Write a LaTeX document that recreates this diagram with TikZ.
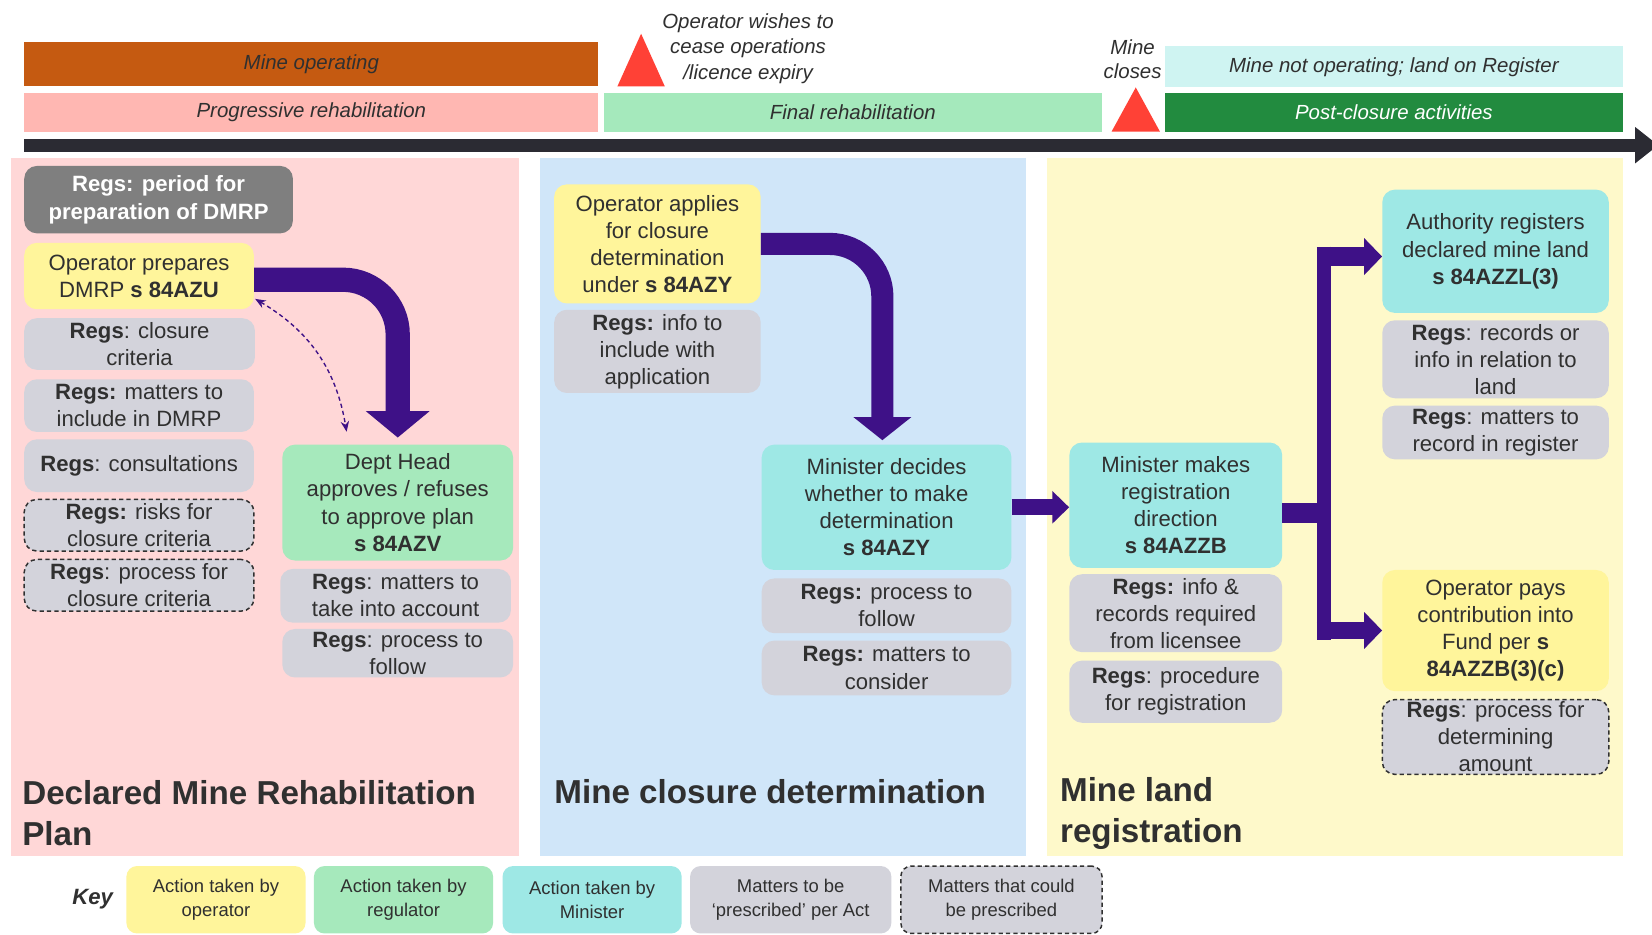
\documentclass[tikz,border=0pt]{standalone}
\usepackage{fontspec}
\setmainfont{Liberation Sans}
\usetikzlibrary{arrows.meta}
\definecolor{txt}{HTML}{303030}
\definecolor{opY}{HTML}{FFF59B}
\definecolor{regG}{HTML}{A6E9BC}
\definecolor{minC}{HTML}{9EE8E5}
\definecolor{regsG}{HTML}{D3D3DB}
\definecolor{dGray}{HTML}{7F7F7F}
\definecolor{pinkP}{HTML}{FFD7D7}
\definecolor{blueP}{HTML}{D0E6F9}
\definecolor{yelP}{HTML}{FEF9CA}
\definecolor{mineOp}{HTML}{C55A11}
\definecolor{progR}{HTML}{FFB7B2}
\definecolor{finR}{HTML}{A5E9BC}
\definecolor{notOp}{HTML}{CFF4F2}
\definecolor{postC}{HTML}{228B3F}
\definecolor{redT}{HTML}{FF4136}
\definecolor{tLine}{HTML}{2B2B33}
\definecolor{purp}{HTML}{3E1187}
\begin{document}
\begin{tikzpicture}[x=1pt,y=-1pt,
  sz/.style 2 args={minimum width=#1pt, minimum height=#2pt},
  box/.style={rounded corners=12pt, align=center, inner sep=2pt, text=txt, font=\fontsize{21}{25.7}\selectfont},
  opbox/.style={box, fill=opY},
  rgbox/.style={box, fill=regG},
  minbox/.style={box, fill=minC},
  regbox/.style={box, fill=regsG},
  pregbox/.style={box, fill=regsG, draw=txt, line width=1.4pt, dash pattern=on 4pt off 3pt},
  bar/.style={inner sep=0pt, align=center, text=txt, font=\itshape\fontsize{19.4}{24}\selectfont},
  title/.style={inner sep=0pt, anchor=west, align=left, text=txt, font=\bfseries\fontsize{31.5}{38.5}\selectfont},
  keybox/.style={rounded corners=10pt, align=center, inner sep=2pt, text=txt, font=\fontsize{17.5}{22.5}\selectfont, minimum width=170pt, minimum height=64pt},
  bigarrow/.style={draw=purp, line join=miter},
]
\path[use as bounding box] (0,0) rectangle (1568,887);
\fill[white] (0,0) rectangle (1568,887);

% ---------- timeline header ----------
\node[bar, fill=mineOp, sz={545}{42}] (mineop) at (295.5,61) {Mine operating};
\node[bar, fill=progR, sz={545}{37}] (progrehab) at (295.5,106.5) {Progressive rehabilitation};
\node[bar, fill=finR, sz={473}{37}] (finrehab) at (809.5,106.5) {Final rehabilitation};
\node[bar, fill=notOp, sz={434}{39}] (notop) at (1323,63.5) {Mine not operating; land on Register};
\node[bar, fill=postC, sz={434}{37}, text=white] (postcl) at (1323,106.5) {Post-closure activities};
\fill[redT] (586,82) -- (608.5,32) -- (631,82) -- cycle;
\fill[redT] (1055,125) -- (1078,83) -- (1101,125) -- cycle;
\node[bar] (wish) at (710,46) {Operator wishes to\\cease operations\\/licence expiry};
\node[bar, font=\itshape\fontsize{19.4}{23}\selectfont] (closes) at (1075,56.5) {Mine\\closes};
\coordinate (tlstart) at (23,137.8);
\coordinate (tlend) at (1574,137.8);
\draw[tLine, line width=12pt, -{Triangle[width=33pt,length=22pt]}] (tlstart) -- (tlend);

% ---------- panels ----------
\fill[pinkP] (10,150) rectangle (493,812);
\fill[blueP] (513,150) rectangle (974,812);
\fill[yelP] (994,150) rectangle (1540,812);

% ---------- DMRP panel ----------
\node[regbox, fill=dGray, sz={255}{64}, text=white, font=\bfseries\fontsize{21}{26}\selectfont] (period) at (150.5,189.5) {Regs: period for\\preparation of DMRP};
\node[opbox, sz={218}{63}] (opprep) at (132,262) {Operator prepares\\DMRP \textbf{s 84AZU}};
\node[regbox, sz={219}{49}] (rcrit) at (132.5,326.5) {\textbf{Regs}: closure\\criteria};
\node[regbox, sz={218}{50}] (rmat) at (132,385) {\textbf{Regs:} matters to\\include in DMRP};
\node[regbox, sz={218}{50}] (rcons) at (132,442) {\textbf{Regs}: consultations};
\node[pregbox, sz={218}{49}] (rrisk) at (132,498.5) {\textbf{Regs:} risks for\\closure criteria};
\node[pregbox, sz={218}{49}] (rproc) at (132,555.5) {\textbf{Regs}: process for\\closure criteria};
\node[rgbox, sz={219}{110}] (dept) at (377.5,477) {Dept Head\\approves / refuses\\to approve plan\\\textbf{s 84AZV}};
\node[regbox, sz={219}{51}] (rtake) at (375.5,565.5) {\textbf{Regs}: matters to\\take into account};
\node[regbox, sz={219}{46}] (rfollowa) at (377.5,620) {\textbf{Regs}: process to\\follow};

\draw[bigarrow, line width=23pt, rounded corners=52pt, -{Triangle[width=59pt,length=25pt]}] ([shift={(0,3.5)}]opprep.east) -| ([shift={(0,-6.5)}]dept.north);
\draw[purp, line width=1.3pt, dash pattern=on 4pt off 3pt, {Stealth[length=10pt,width=8pt]}-{Stealth[length=10pt,width=8pt]}] ([shift={(1,-10)}]opprep.south east) to[bend left=25] ([shift={(-48.5,-12)}]dept.north);

\node[title] (t1) at (21,772) {Declared Mine Rehabilitation\\Plan};

% ---------- closure determination panel ----------
\node[opbox, sz={196}{113}] (opapp) at (624,231.5) {Operator applies\\for closure\\determination\\under \textbf{s 84AZY}};
\node[regbox, sz={196}{79}] (rinfo) at (624,333.5) {\textbf{Regs:} info to\\include with\\application};
\node[minbox, sz={237}{119}] (mindec) at (841.5,481.5) {Minister decides\\whether to make\\determination\\\textbf{s 84AZY}};
\node[regbox, sz={237}{52}] (rfollowb) at (841.5,575) {\textbf{Regs:} process to\\follow};
\node[regbox, sz={237}{52}] (rconsider) at (841.5,634) {\textbf{Regs:} matters to\\consider};

\draw[bigarrow, line width=21pt, rounded corners=50pt, -{Triangle[width=54pt,length=22pt]}] (opapp.east) -| ([shift={(-4,-4)}]mindec.north);

\node[title] (t2) at (526,751) {Mine closure determination};

% ---------- land registration panel ----------
\node[minbox, sz={202}{119}] (minmake) at (1116,479.5) {Minister makes\\registration\\direction\\\textbf{s 84AZZB}};
\node[regbox, sz={202}{74}] (rrecords) at (1116,582) {\textbf{Regs:} info \&\\records required\\from licensee};
\node[regbox, sz={202}{59}] (rproced) at (1116,656.5) {\textbf{Regs}: procedure\\for registration};
\node[minbox, sz={215}{117}] (auth) at (1419.5,238.5) {Authority registers\\declared mine land\\\textbf{s 84AZZL(3)}};
\node[regbox, sz={215}{74}] (rland) at (1419.5,341) {\textbf{Regs}: records or\\info in relation to\\land};
\node[regbox, sz={215}{51}] (rregister) at (1419.5,410.5) {\textbf{Regs}: matters to\\record in register};
\node[opbox, sz={215}{115}] (oppay) at (1419.5,598.5) {Operator pays\\contribution into\\Fund per \textbf{s}\\\textbf{84AZZB(3)(c)}};
\node[pregbox, sz={215}{71}] (ramount) at (1419.5,699.5) {\textbf{Regs}: process for\\determining\\amount};

\draw[bigarrow, line width=15pt, -{Triangle[width=30pt,length=16pt]}] (mindec.east) -- (mindec.east -| minmake.west);

\coordinate (branch) at (1256.6,487);
\coordinate (bt) at (1256.6,243.5);
\coordinate (bb) at (1256.6,598.4);
\draw[bigarrow, line width=19pt] ([shift={(0,7.5)}]minmake.east) -- (branch);
\draw[bigarrow, line width=13.5pt] ([shift={(0,-9.5)}]bt) -- ([shift={(0,9)}]bb);
\draw[bigarrow, line width=18pt, -{Triangle[width=34pt,length=17pt]}] ([shift={(-6.75,0)}]bt) -- (bt -| auth.west);
\draw[bigarrow, line width=17pt, -{Triangle[width=34pt,length=17pt]}] ([shift={(-6.75,0)}]bb) -- (bb -| oppay.west);

\node[title] (t3) at (1006,772) {Mine land\\registration};

% ---------- key ----------
\node[inner sep=0pt, text=txt, font=\bfseries\itshape\fontsize{21}{25}\selectfont] (key) at (88,853) {Key};
\node[keybox, fill=opY] (k1) at (205,854) {Action taken by\\operator};
\node[keybox, fill=regG] (k2) at (383,854) {Action taken by\\regulator};
\node[keybox, fill=minC] (k3) at (562,854) {Action taken by\\Minister};
\node[keybox, fill=regsG, minimum width=191pt] (k4) at (750.5,854) {Matters to be\\‘prescribed’ per Act};
\node[keybox, fill=regsG, minimum width=191pt, draw=txt, line width=1.4pt, dash pattern=on 4pt off 3pt] (k5) at (950.5,854) {Matters that could\\be prescribed};
\end{tikzpicture}
\end{document}
